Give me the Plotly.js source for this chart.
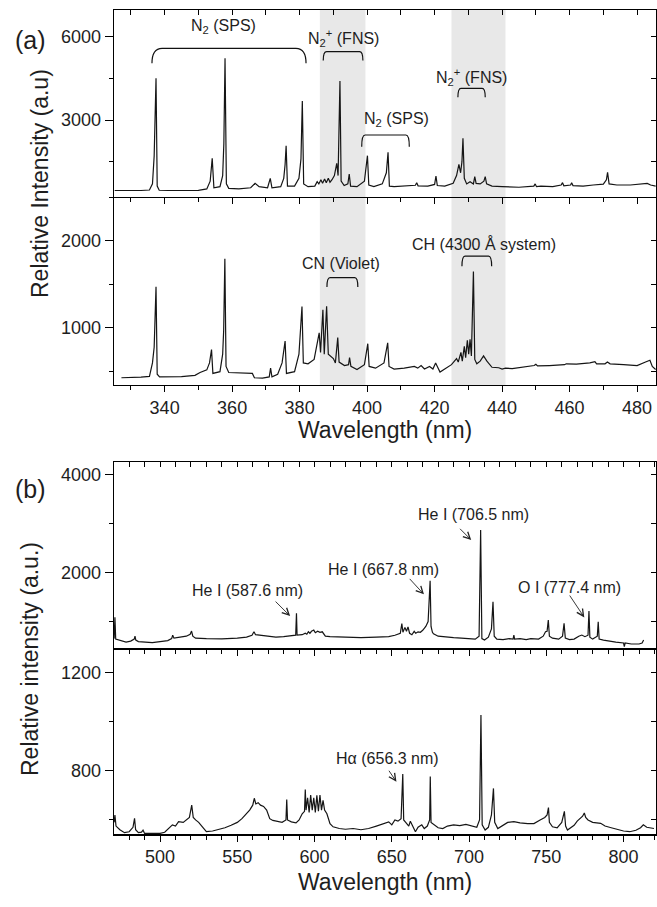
<!DOCTYPE html>
<html><head><meta charset="utf-8">
<script src="https://cdn.plot.ly/plotly-3.0.1.min.js"></script>
<style>html,body{margin:0;padding:0;background:#fff}#chart{width:657px;height:907px}</style>
</head><body><div id="chart"></div>
<script>
// ---------- DATA ----------
// Panel (a), upper spectrum: [wavelength nm, relative intensity]
const a1Points = [[325.2,462],[327,458],[330,455],[333,462],[335.5,480],[336.4,700],[336.9,1700],[337.45,4500],[337.8,620],[338.4,470],[341,462],[345,460],[350,470],[352.5,520],[353.5,800],[354.1,1620],[354.6,560],[356.4,600],[357.2,1000],[357.55,2150],[357.9,5220],[358.3,700],[359,540],[362,520],[365.5,560],[366.8,720],[368,600],[370.5,560],[371.3,900],[371.8,560],[374.4,600],[375.3,900],[375.7,1400],[376,2076],[376.4,620],[378.5,620],[379.8,900],[380.4,1600],[380.8,3684],[381.2,700],[382.5,600],[384.5,620],[385.2,780],[385.7,700],[386.3,850],[386.8,720],[387.4,880],[387.9,740],[388.5,900],[389,760],[389.6,850],[390.3,1000],[391,1440],[391.4,1000],[391.95,4404],[392.3,800],[393.2,640],[394.3,700],[394.7,1056],[395.1,620],[397,600],[399.2,800],[399.7,1300],[400.1,1716],[400.5,660],[402,600],[404.5,700],[405.7,1100],[406.2,1836],[406.6,620],[408,600],[410,620],[412,620],[414.3,650],[414.7,744],[415.1,630],[418,620],[420,680],[420.4,984],[420.8,640],[423,620],[425.5,720],[426.5,1000],[427.2,1404],[427.7,1100],[428.1,1500],[428.4,2340],[428.8,900],[429.5,700],[430.5,780],[431.5,700],[431.9,960],[432.3,720],[433.5,700],[434.6,800],[435,960],[435.4,700],[437,620],[440,600],[442,600],[445,580],[449.4,620],[449.8,700],[450.2,600],[451.5,620],[455,600],[457.5,660],[457.9,744],[458.3,630],[460.3,660],[460.6,744],[461,640],[464,620],[467,660],[470,690],[470.9,850],[471.25,1116],[471.7,700],[474,660],[478,660],[481,700],[483,720],[484,660],[485.5,620]];

// Panel (a), lower spectrum
const a2Points = [[327.2,430],[330,432],[333,437],[335.5,445],[336.4,600],[336.9,780],[337.45,1472],[337.8,470],[338.5,440],[345,442],[349,458],[350.5,490],[352.5,520],[353.3,600],[353.9,752],[354.3,480],[356.4,500],[357.2,700],[357.5,975],[357.85,1792],[358.2,560],[359,490],[363,485],[366,480],[366.6,430],[369,425],[371,440],[371.4,540],[371.8,440],[373.5,470],[374.8,600],[375.7,850],[376.1,480],[378.5,500],[379.8,700],[380.7,1247],[381.1,600],[382.5,590],[384.3,640],[385,780],[385.8,945],[386.2,720],[386.9,1210],[387.3,700],[388,1250],[388.5,700],[389,680],[390,650],[390.6,600],[391.3,890],[391.7,610],[392.5,590],[393.3,570],[394.5,580],[394.8,660],[395.2,560],[397,525],[399.2,580],[399.8,740],[400.2,820],[400.6,560],[402.5,540],[405,600],[406.1,830],[406.5,560],[408,530],[411,540],[414,560],[415,540],[416,570],[417,530],[418.5,560],[419.5,530],[420.3,600],[420.8,560],[421.6,495],[423,530],[425,580],[426.5,650],[427,610],[427.8,720],[428.2,620],[428.8,790],[429.2,660],[429.7,860],[430.1,700],[430.5,870],[430.9,680],[431.5,1646],[431.9,640],[432.5,590],[433.5,620],[434.5,680],[435.5,620],[437,550],[439,545],[440,530],[441,540],[443,535],[446,550],[449.5,570],[450,585],[450.5,565],[454,570],[458.5,580],[459,590],[462,585],[466,600],[467.5,615],[468,590],[470.5,590],[471.2,610],[472,590],[476,580],[480,570],[482.5,610],[483.8,630],[484.5,560],[485.5,525]];

// Panel (b), upper spectrum
const b1Points = [[470.3,650],[470.8,1085],[471.3,640],[475,600],[478,580],[481,600],[483.3,640],[483.8,700],[484.3,620],[486,590],[490,580],[495,570],[500,590],[505,610],[507.5,650],[508.2,720],[509,660],[513,680],[517,700],[519.5,740],[520.4,805],[521.2,700],[523,660],[530,650],[540,645],[550,660],[556,680],[559.5,720],[560.8,790],[561.8,730],[564,720],[570,700],[575,680],[580,690],[586,710],[587.8,720],[588.3,1167],[588.7,720],[592,730],[594,760],[595,740],[596,790],[597,760],[598,800],[599.5,825],[600.5,770],[602,800],[603.5,780],[605,790],[607,700],[610,690],[620,680],[630,670],[640,680],[648,690],[652,720],[655.5,760],[656.5,960],[657.2,780],[658.5,880],[659.5,800],[660.5,890],[661.5,760],[663,730],[664.5,800],[665.5,760],[667,790],[668.5,780],[670,820],[672,900],[673.5,1000],[674.8,1836],[675.4,900],[676.3,780],[677,750],[680,700],[685,680],[690,670],[695,660],[700,650],[704,640],[706.5,700],[707.5,2874],[708.3,650],[710,620],[712.5,680],[714.5,850],[715.5,1406],[716.3,700],[718,640],[722,630],[726,650],[728.5,640],[729,723],[729.5,640],[733,650],[737,630],[740,650],[745,640],[748,700],[749.5,790],[750.5,800],[751.3,1030],[752,700],[754,660],[758,640],[760.5,700],[761.5,962],[762.3,660],[765,630],[768,640],[771,700],[773,723],[775,690],[777,720],[777.6,1215],[778.2,680],[780,640],[783,700],[783.6,996],[784.2,640],[787,620],[790,600],[795,580],[800,560],[800.5,484],[801,560],[805,540],[810,540],[812,560],[813,620]];

// Panel (b), lower spectrum
const b2Points = [[470.3,590],[470.8,620],[471.5,575],[474,560],[477,548],[480,552],[482.5,570],[483.5,606],[484.2,560],[486,548],[488,550],[489,558],[490,545],[492,545],[495,545],[498,543],[500,545],[503,550],[506,568],[508,580],[510,575],[512,593],[515,590],[517,600],[519,610],[520.5,660],[521.5,610],[523,600],[525,590],[527,575],[530,552],[534,555],[538,560],[542,568],[546,578],[550,590],[553,605],[556,625],[558,640],[560,660],[561,688],[562,665],[563.5,670],[565,660],[567,655],[569,640],[571,605],[573,598],[576,595],[579,590],[581.5,600],[582,683],[582.5,600],[585,592],[588,588],[590,600],[592,625],[593.5,635],[594,724],[594.5,640],[595.5,690],[596.5,630],[597.5,701],[598.5,640],[599.5,690],[600.5,630],[601.5,700],[602.5,635],[603.5,701],[604.5,640],[605.5,680],[606.5,640],[608,625],[610,585],[612,572],[616,565],[620,562],[625,565],[630,560],[635,565],[640,575],[645,585],[648,592],[650,580],[652,600],[654,595],[656,605],[657.1,787],[657.7,600],[659,590],[661,575],[662,595],[664,570],[665.3,552],[667,570],[669.4,580],[671,565],[673,575],[674.5,600],[674.9,776],[675.4,590],[677.6,579],[680,568],[683,565],[686,575],[690,580],[694,577],[698,582],[702,575],[705,570],[706.8,600],[707.7,1026],[708.5,580],[710.4,559],[712.5,570],[714.5,620],[715.8,728],[716.6,590],[718.6,565],[721,575],[725,590],[729,593],[733,588],[738,585],[742,585],[746,600],[749,610],[750.5,620],[751.4,650],[752,590],[754,572],[757,568],[760,590],[761.7,635],[762.5,575],[763.7,559],[766,570],[768,578],[770,595],[772,605],[773.5,615],[774.6,628],[775.5,610],[777,600],[780,590],[785.2,586],[788,575],[792,568],[796,560],[800,555],[804,552],[808,558],[811,568],[812.8,580],[815,570],[818,568],[819.7,565]];

// Shaded wavelength bands in panel (a) [start, end] nm
const bandStart = [386, 425];
const bandEnd = [399.5, 441];

// Labels
const aBracketLabels = ['N<sub>2</sub> (SPS)', 'N<sub>2</sub><sup>+</sup> (FNS)', 'N<sub>2</sub> (SPS)', 'N<sub>2</sub><sup>+</sup> (FNS)'];
const a2BracketLabels = ['CN (Violet)', 'CH (4300 Å system)'];
const b1LineLabels = ['He I (587.6 nm)', 'He I (667.8 nm)', 'He I (706.5 nm)', 'O I (777.4 nm)'];
const b2LineLabels = ['Hα (656.3 nm)'];

// ---------- LAYOUT / PLACEMENT ----------
const FONT = 'Liberation Sans, Arial, Helvetica, sans-serif';
const TXT = '#1e1e1e';
const W = 657, H = 907;
const py = v => 1 - v / H;
const xdom = [114 / W, 656 / W];
const dom = {
  a1: [py(196.7), py(10)],
  a2: [py(385), py(196.7)],
  b1: [py(648.3), py(462)],
  b2: [py(834.3), py(648.3)]
};
const rA = [325, 485.6], rB = [470.2, 821];

function trace(points, xa, ya) {
  return {x: points.map(p => p[0]), y: points.map(p => p[1]), xaxis: xa, yaxis: ya,
    type: 'scatter', mode: 'lines', line: {color: '#151515', width: 1.2}, hoverinfo: 'skip', showlegend: false};
}
const data = [
  trace(a1Points, 'x', 'y'), trace(a2Points, 'x2', 'y2'),
  trace(b1Points, 'x3', 'y3'), trace(b2Points, 'x4', 'y4')
];
// empty helper traces so the overlay (top/right tick) axes exist
[['x5','y'],['x6','y3'],['x','y5'],['x2','y6'],['x3','y7'],['x4','y8']].forEach(p =>
  data.push({x: [], y: [], xaxis: p[0], yaxis: p[1], type: 'scatter', mode: 'lines', showlegend: false, hoverinfo: 'skip'}));

function xAxis(anchor, range, dt, mdt, labels, mirror) {
  return {domain: xdom, anchor: anchor, range: range, tick0: 0, dtick: dt, ticks: 'outside', ticklen: 6,
    tickwidth: 1, tickcolor: '#000', showticklabels: labels, tickfont: {family: FONT, size: 18, color: TXT},
    minor: {tick0: 0, dtick: mdt, ticks: 'outside', ticklen: 4, tickwidth: 1, tickcolor: '#000'},
    showline: true, linecolor: '#000', linewidth: 1.3, mirror: mirror, showgrid: false, zeroline: false, fixedrange: true};
}
function yAxis(anchor, domain, range, dt, mdt) {
  return {domain: domain, anchor: anchor, range: range, tick0: 0, dtick: dt, ticks: 'outside', ticklen: 8,
    tickwidth: 1, tickcolor: '#000', tickfont: {family: FONT, size: 18, color: TXT},
    minor: {tick0: 0, dtick: mdt, ticks: 'outside', ticklen: 4, tickwidth: 1, tickcolor: '#000'},
    showline: true, linecolor: '#000', linewidth: 1.3, mirror: true, showgrid: false, zeroline: false, fixedrange: true};
}
function topAxis(over, anchor, range, dt) {
  return {overlaying: over, anchor: anchor, side: 'top', range: range, tick0: 0, dtick: dt, ticks: 'inside',
    ticklen: 5, tickwidth: 1, tickcolor: '#000', showticklabels: false, showline: false, showgrid: false, zeroline: false, fixedrange: true};
}
function rightAxis(over, anchor, range, dt) {
  return {overlaying: over, anchor: anchor, side: 'right', range: range, tick0: 0, dtick: dt, ticks: 'inside',
    ticklen: 5, tickwidth: 1, tickcolor: '#000', showticklabels: false, showline: false, showgrid: false, zeroline: false, fixedrange: true};
}
const yrA1 = [239, 6960], yrA2 = [347, 2504], yrB1 = [452, 4266], yrB2 = [541.5, 1297.6];

const shapes = [];
bandStart.forEach((s, i) => shapes.push({type: 'rect', xref: 'x', yref: 'paper', x0: s, x1: bandEnd[i],
  y0: dom.a2[0], y1: dom.a1[1], fillcolor: '#e8e8e8', line: {width: 0}, layer: 'below'}));

function bracket(xr, yr, x1, x2, yTop, yLeg, r) {
  const p = `M${x1},${yLeg} Q${x1},${yTop} ${x1 + r},${yTop} L${x2 - r},${yTop} Q${x2},${yTop} ${x2},${yLeg}`;
  shapes.push({type: 'path', xref: xr, yref: yr, path: p, line: {color: '#111', width: 1.2}});
}
bracket('x', 'y', 336.25, 381.9, 5580, 5040, 3.0);
bracket('x', 'y', 387.0, 398.75, 5460, 5140, 1.0);
bracket('x', 'y', 398.4, 412.5, 2460, 2040, 1.0);
bracket('x', 'y', 426.9, 435.0, 4140, 3816, 0.9);
bracket('x2', 'y2', 388.1, 397.25, 1577, 1469, 0.9);
bracket('x2', 'y2', 428.1, 436.9, 1824, 1706, 0.9);

const annFont = {family: FONT, size: 16, color: TXT};
const annotations = [];
function label(xr, yr, x, y, text) {
  annotations.push({xref: xr, yref: yr, x: x, y: y, text: text, showarrow: false, font: annFont, xanchor: 'center', yanchor: 'middle'});
}
function arrow(xr, yr, xt, yt, xs, ys) {
  annotations.push({xref: xr, yref: yr, x: xt, y: yt, axref: xr, ayref: yr, ax: xs, ay: ys, text: '',
    showarrow: true, arrowhead: 5, arrowsize: 1.5, arrowwidth: 0.9, arrowcolor: '#222', standoff: 0, startstandoff: 0});
}
label('x', 'y', 357.5, 6350, aBracketLabels[0]);
label('x', 'y', 393.1, 5950, aBracketLabels[1]);
label('x', 'y', 408.75, 3010, aBracketLabels[2]);
label('x', 'y', 431.0, 4560, aBracketLabels[3]);
label('x2', 'y2', 392.25, 1737, a2BracketLabels[0]);
label('x2', 'y2', 434.6, 1966, a2BracketLabels[1]);
label('x3', 'y3', 556.3, 1631, b1LineLabels[0]);
label('x3', 'y3', 644.5, 2075, b1LineLabels[1]);
label('x3', 'y3', 702.7, 3182, b1LineLabels[2]);
label('x3', 'y3', 765.0, 1700, b1LineLabels[3]);
label('x4', 'y4', 647.0, 849, b2LineLabels[0]);
arrow('x3', 'y3', 584.2, 1112, 573.8, 1440);
arrow('x3', 'y3', 670.8, 1556, 660.7, 1904);
arrow('x3', 'y3', 701.4, 2669, 693.2, 2929);
arrow('x3', 'y3', 774.6, 1085, 764.5, 1563);
arrow('x4', 'y4', 653.0, 755, 647.5, 806);

// titles & panel letters
const titleFont = {family: FONT, size: 23, color: TXT};
annotations.push({xref: 'paper', yref: 'paper', x: 40 / W, y: py(184), text: 'Relative Intensity (a.u)', textangle: -90, showarrow: false, font: titleFont, xanchor: 'center', yanchor: 'middle'});
annotations.push({xref: 'paper', yref: 'paper', x: 30 / W, y: py(659), text: 'Relative intensity (a.u.)', textangle: -90, showarrow: false, font: titleFont, xanchor: 'center', yanchor: 'middle'});
annotations.push({xref: 'paper', yref: 'paper', x: 385 / W, y: py(430), text: 'Wavelength (nm)', showarrow: false, font: titleFont, xanchor: 'center', yanchor: 'middle'});
annotations.push({xref: 'paper', yref: 'paper', x: 385 / W, y: py(882), text: 'Wavelength (nm)', showarrow: false, font: titleFont, xanchor: 'center', yanchor: 'middle'});
annotations.push({xref: 'paper', yref: 'paper', x: 30 / W, y: py(40), text: '(a)', showarrow: false, font: {family: FONT, size: 25, color: TXT}, xanchor: 'center', yanchor: 'middle'});
annotations.push({xref: 'paper', yref: 'paper', x: 30 / W, y: py(489), text: '(b)', showarrow: false, font: {family: FONT, size: 25, color: TXT}, xanchor: 'center', yanchor: 'middle'});

const layout = {
  width: W, height: H, margin: {l: 0, r: 0, t: 0, b: 0}, paper_bgcolor: '#fff', plot_bgcolor: 'rgba(0,0,0,0)',
  font: {family: FONT, color: TXT}, showlegend: false,
  xaxis: xAxis('y', rA, 20, 10, false, true),
  xaxis2: xAxis('y2', rA, 20, 10, true, false),
  xaxis3: xAxis('y3', rB, 50, 10, false, true),
  xaxis4: xAxis('y4', rB, 50, 10, true, false),
  xaxis5: topAxis('x', 'y', rA, 10),
  xaxis6: topAxis('x3', 'y3', rB, 10),
  yaxis: yAxis('x', dom.a1, yrA1, 3000, 1500),
  yaxis2: yAxis('x2', dom.a2, yrA2, 1000, 500),
  yaxis3: yAxis('x3', dom.b1, yrB1, 2000, 1000),
  yaxis4: yAxis('x4', dom.b2, yrB2, 400, 200),
  yaxis5: rightAxis('y', 'x', yrA1, 1500),
  yaxis6: rightAxis('y2', 'x2', yrA2, 500),
  yaxis7: rightAxis('y3', 'x3', yrB1, 1000),
  yaxis8: rightAxis('y4', 'x4', yrB2, 200),
  shapes: shapes, annotations: annotations
};
Plotly.newPlot('chart', data, layout, {staticPlot: true, displayModeBar: false});
</script></body></html>
